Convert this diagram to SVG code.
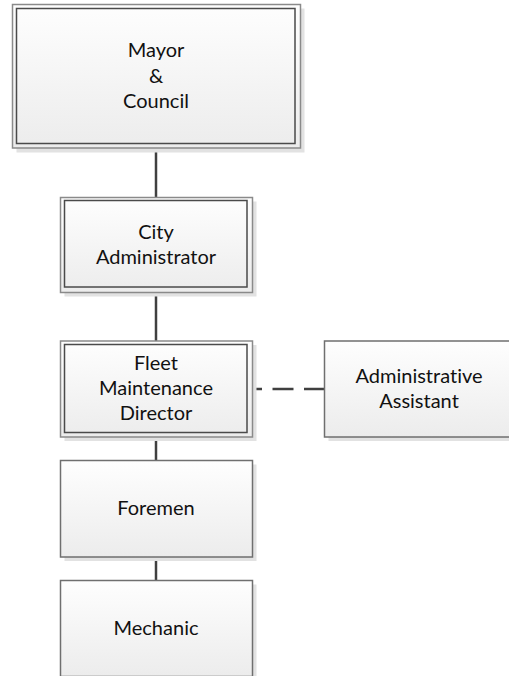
<svg xmlns="http://www.w3.org/2000/svg" width="509" height="676" viewBox="0 0 509 676">
  <defs>
    <linearGradient id="boxFill" x1="0" y1="0" x2="0" y2="1">
      <stop offset="0" stop-color="#fefefe"/>
      <stop offset="1" stop-color="#ececec"/>
    </linearGradient>
    <style>
      .shadow { fill: #e2e2e2; }
      .box { fill: url(#boxFill); stroke: #6f6f6f; stroke-width: 1.5; }
      .outer { fill: url(#boxFill); stroke: #8a8a8a; stroke-width: 1.5; }
      .inner { fill: none; stroke: #4a4a4a; stroke-width: 1.5; }
      .label { font-family: Lato, "Open Sans", sans-serif; font-size: 20px; fill: #111; text-anchor: middle; font-variant-ligatures: none; font-feature-settings: "liga" 0, "dlig" 0; }
      .link { stroke: #404040; stroke-width: 2.5; fill: none; }
      .dashed { stroke-dasharray: 21 10.5; }
    </style>
  </defs>

  <rect width="509" height="676" fill="#ffffff"/>

  <!-- reporting lines -->
  <g id="connectors">
    <line class="link" x1="156" y1="148" x2="156" y2="198"/>
    <line class="link" x1="156" y1="293" x2="156" y2="341"/>
    <line class="link" x1="156" y1="437" x2="156" y2="461"/>
    <line class="link" x1="156" y1="557" x2="156" y2="581"/>
    <line class="link dashed" x1="325" y1="389" x2="252" y2="389"/>
  </g>

  <g id="mayor-council">
    <rect class="shadow" x="16.5" y="8.5" width="288" height="144"/>
    <rect class="outer" x="12.5" y="4.5" width="288" height="143.5"/>
    <rect class="inner" x="16.5" y="8.5" width="278.5" height="135"/>
    <text class="label" x="156" y="57">Mayor</text>
    <text class="label" x="156" y="82.5">&amp;</text>
    <text class="label" x="156" y="108">Council</text>
  </g>

  <g id="city-administrator">
    <rect class="shadow" x="64.5" y="201.5" width="192" height="95"/>
    <rect class="outer" x="60.5" y="197.5" width="192" height="95"/>
    <rect class="inner" x="64.5" y="200.5" width="182.5" height="86.5"/>
    <text class="label" x="156" y="238.5">City</text>
    <text class="label" x="156" y="264">Administrator</text>
  </g>

  <g id="fleet-maintenance-director">
    <rect class="shadow" x="64.5" y="345" width="192" height="96"/>
    <rect class="outer" x="60.5" y="341" width="192" height="96"/>
    <rect class="inner" x="64.5" y="344.5" width="182.5" height="88"/>
    <text class="label" x="156" y="370">Fleet</text>
    <text class="label" x="156" y="395">Maintenance</text>
    <text class="label" x="156" y="420">Director</text>
  </g>

  <g id="administrative-assistant">
    <rect class="shadow" x="328.5" y="345" width="192" height="96"/>
    <rect class="box" x="324.5" y="341" width="192" height="96"/>
    <text class="label" x="419" y="382.5">Administrative</text>
    <text class="label" x="419" y="407.5">Assistant</text>
  </g>

  <g id="foremen">
    <rect class="shadow" x="64.5" y="464.5" width="192" height="96.5"/>
    <rect class="box" x="60.5" y="460.5" width="192" height="96.5"/>
    <text class="label" x="156" y="515">Foremen</text>
  </g>

  <g id="mechanic">
    <rect class="shadow" x="64.5" y="584.5" width="192" height="96"/>
    <rect class="box" x="60.5" y="580.5" width="192" height="96"/>
    <text class="label" x="156" y="635">Mechanic</text>
  </g>
</svg>
